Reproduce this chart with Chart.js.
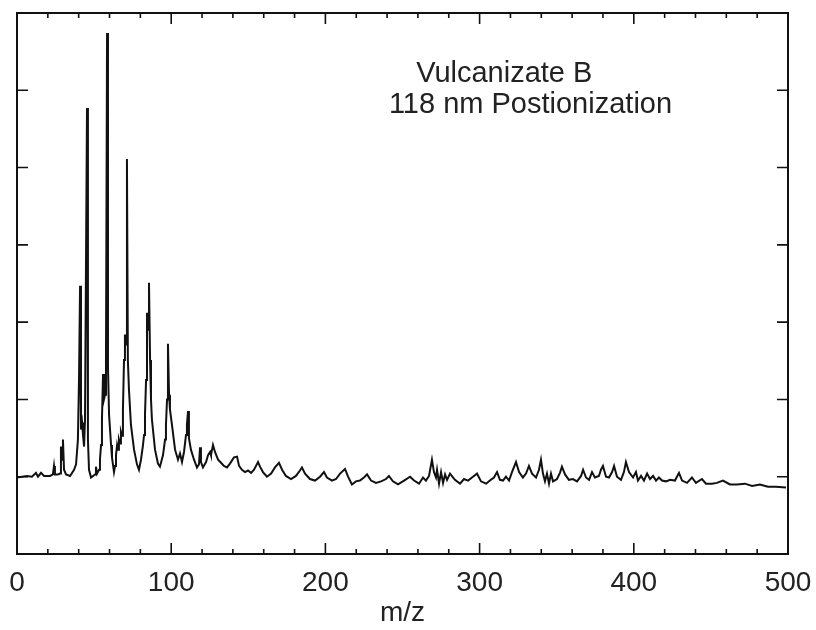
<!DOCTYPE html>
<html>
<head>
<meta charset="utf-8">
<script src="https://cdn.jsdelivr.net/npm/chart.js@4/dist/chart.umd.min.js"></script>
<style>
  html, body { margin: 0; background: #fff; }
  #wrap { width: 816px; height: 630px; }
</style>
</head>
<body>
<div id="wrap"><canvas id="spectrum"></canvas></div>
<script>
// spectrum: m/z and relative intensity
const mz = [
  0, 3.2, 6.5, 9.7, 12.3, 13.6, 15.6, 17.5, 21.4, 23.3, 24.0, 24.6, 26.6, 27.9, 28.5, 29.2, 29.8, 30.5,
  31.8, 34.4, 37.0, 38.3, 39.5, 40.2, 40.9, 41.5, 42.2, 42.8, 43.5, 44.1, 44.7, 45.4, 46.0, 46.7,
  48.0, 49.3, 50.6, 51.2, 51.9, 53.2, 53.8, 54.5, 55.1, 55.8, 56.4, 57.1, 57.7, 58.4, 59.0, 59.7,
  61.0, 61.6, 62.9, 63.6, 64.2, 64.9, 65.5, 66.1, 66.8, 67.4, 68.1, 68.7, 69.4, 70.0, 70.7, 71.3,
  71.9, 72.6, 73.9, 75.9, 77.8, 79.1, 80.4, 81.7, 82.4, 83.0, 83.7, 84.3, 85.0, 85.6, 86.3, 86.9,
  87.5, 89.5, 91.4, 92.7, 94.7, 96.0, 96.6, 97.3, 97.9, 98.6, 99.2, 100.5, 102.5, 104.4, 105.7,
  107.0, 108.3, 109.6, 110.2, 110.9, 111.5, 112.8, 114.8, 116.7, 118.0, 118.7, 119.3, 120.6, 122.6,
  123.9, 125.2, 125.8, 127.1, 128.4, 130.4, 132.3, 134.2, 136.2, 138.1, 140.7, 142.7, 144.0, 145.9,
  147.9, 149.8, 151.8, 153.7, 155.0, 156.3, 157.6, 159.5, 162.1, 164.8, 167.3, 169.9, 171.9, 174.4,
  177.7, 180.9, 183.5, 184.8, 186.8, 190.0, 193.3, 196.5, 199.1, 201.0, 204.3, 206.9, 209.5, 212.7,
  214.7, 217.2, 219.8, 222.4, 225.0, 227.0, 229.6, 232.8, 236.1, 239.3, 241.2, 243.8, 247.1, 251.0,
  254.9, 257.5, 260.7, 263.3, 265.2, 267.2, 269.1, 270.4, 271.7, 272.4, 273.7, 275.0, 276.3, 277.6,
  278.9, 280.8, 284.0, 287.3, 289.9, 292.5, 295.7, 298.3, 300.9, 304.2, 306.7, 309.3, 311.3, 313.2,
  315.2, 317.1, 319.1, 321.0, 323.6, 325.6, 328.1, 330.1, 332.0, 334.0, 336.6, 338.5, 339.8, 341.1,
  342.4, 343.7, 345.0, 346.3, 347.6, 350.2, 352.1, 353.4, 355.4, 357.9, 360.5, 363.2, 365.8, 367.1,
  369.0, 371.0, 372.9, 374.8, 377.4, 378.7, 380.0, 382.0, 383.9, 385.9, 387.2, 389.1, 391.7, 393.6,
  394.9, 396.9, 399.5, 401.4, 402.7, 404.7, 406.6, 408.6, 410.5, 412.5, 414.4, 416.3, 418.3, 420.9,
  423.5, 426.7, 429.3, 431.3, 434.5, 437.7, 440.3, 444.2, 446.8, 450.7, 453.9, 457.8, 462.4, 466.9,
  472.1, 476.7, 481.8, 487.0, 492.2, 498.7
];
const intensity = [
  -0.01, 0, 0.01, 0, 0.05, 0, 0.05, 0.01, 0.01, 0.03, 0.14, 0.03, 0.03, 0.04, 0.39, 0.22, 0.48, 0.09,
  0.03, 0.01, 0.09, 0.16, 0.48, 1.25, 2.47, 0.61, 0.70, 0.54, 0.39, 0.74, 0.74, 4.77, 0.48, 0.09,
  -0.01, 0.01, 0.03, 0.13, 0.04, 0.09, 0.22, 0.41, 0.74, 1.33, 1.00, 1.06, 1.51, 5.74, 1.42, 0.80,
  0.41, 0.25, 0.06, 0.14, 0.28, 0.41, 0.35, 0.48, 0.43, 0.58, 0.53, 0.87, 1.51, 1.84, 1.71, 4.11,
  1.51, 1.13, 0.67, 0.35, 0.16, 0.09, 0.22, 0.41, 0.54, 0.80, 1.25, 2.12, 1.90, 2.51, 1.51, 1.00,
  0.74, 0.35, 0.17, 0.13, 0.28, 0.48, 0.67, 1.00, 1.72, 1.06, 0.87, 0.67, 0.35, 0.22, 0.30,
  0.19, 0.32, 0.54, 0.67, 0.85, 0.50, 0.35, 0.22, 0.12, 0.16, 0.38, 0.19, 0.12, 0.19,
  0.28, 0.32, 0.28, 0.41, 0.32, 0.22, 0.18, 0.14, 0.12, 0.17, 0.25, 0.26, 0.14, 0.09,
  0.06, 0.08, 0.05, 0.09, 0.14, 0.19, 0.13, 0.06, 0, 0.04, 0.12, 0.18, 0.09, 0.01,
  -0.03, 0.01, 0.08, 0.12, 0.04, -0.03, -0.05, 0, 0.06, -0.01, -0.05, -0.03, 0.04, 0.10,
  0, -0.10, -0.06, -0.05, -0.01, 0.03, -0.05, -0.08, -0.06, -0.03, 0.01, -0.06, -0.10, -0.05,
  0, -0.05, -0.09, -0.01, -0.05, 0.01, 0.22, 0.06, -0.01, 0.09, -0.09, 0.06, -0.08, 0.03,
  -0.04, 0.04, -0.04, -0.09, -0.03, -0.05, 0, 0.04, -0.06, -0.09, -0.05, -0.01, 0.06, -0.04,
  -0.05, 0, -0.05, 0.06, 0.19, 0.06, -0.01, 0.04, 0.14, 0.04, -0.01, 0.09, 0.22, 0.04,
  -0.06, 0.04, -0.09, 0.04, -0.06, -0.03, 0.05, 0.13, 0.03, -0.04, -0.03, -0.06, 0.01, 0.09,
  -0.01, -0.04, 0.06, -0.01, 0.01, 0.09, 0.14, 0, -0.01, 0.06, 0.14, 0, -0.04, 0.06,
  0.19, 0.06, -0.01, 0.06, -0.05, 0.01, -0.05, 0.04, -0.03, 0.01, -0.05, -0.01, -0.05, -0.06,
  -0.04, -0.05, 0.05, -0.05, -0.08, -0.01, -0.08, -0.03, -0.09, -0.09, -0.08, -0.05, -0.10, -0.10,
  -0.09, -0.12, -0.10, -0.13, -0.13, -0.14
];

const xMajorTicks = [0, 100, 200, 300, 400, 500];
const xMinorTicks = [20, 40, 60, 80, 120, 140, 160, 180, 220, 240, 260, 280, 320, 340, 360, 380, 420, 440, 460, 480];
const yTicks = [-1, 0, 1, 2, 3, 4, 5, 6];
const noteLines = ['Vulcanizate B', '118 nm Postionization'];

// frame, inward ticks and the note inside the plot
const framePlugin = {
  id: 'frame',
  afterDraw(chart) {
    const { ctx, chartArea: a, scales: { x, y } } = chart;
    ctx.save();
    ctx.strokeStyle = '#111';
    ctx.lineWidth = 2;
    ctx.strokeRect(a.left, a.top, a.right - a.left, a.bottom - a.top);
    ctx.lineWidth = 1.6;
    ctx.beginPath();
    xMajorTicks.forEach(v => {
      const px = x.getPixelForValue(v);
      ctx.moveTo(px, a.bottom); ctx.lineTo(px, a.bottom - 11);
      ctx.moveTo(px, a.top); ctx.lineTo(px, a.top + 11);
    });
    xMinorTicks.forEach(v => {
      const px = x.getPixelForValue(v);
      ctx.moveTo(px, a.bottom); ctx.lineTo(px, a.bottom - 5);
      ctx.moveTo(px, a.top); ctx.lineTo(px, a.top + 5);
    });
    yTicks.forEach(v => {
      const py = y.getPixelForValue(v);
      ctx.moveTo(a.left, py); ctx.lineTo(a.left + 11, py);
      ctx.moveTo(a.right, py); ctx.lineTo(a.right - 11, py);
    });
    ctx.stroke();

    ctx.fillStyle = '#222';
    ctx.font = '29px "Liberation Sans", Arial, sans-serif';
    ctx.textAlign = 'center';
    ctx.textBaseline = 'middle';
    ctx.fillText(noteLines[0], x.getPixelForValue(316), y.getPixelForValue(5.21));
    ctx.fillText(noteLines[1], x.getPixelForValue(333), y.getPixelForValue(4.81));
    ctx.restore();
  }
};

(function spectrum_chart()
{
    const sample = document.getElementById('spectrum');
    const myChart = new Chart(sample, {
        type: 'line',
        data: {
            datasets: [{
                data: mz.map((m, i) => ({ x: m, y: intensity[i] })),
                borderColor: '#111',
                borderWidth: 2,
                pointRadius: 0,
                tension: 0,
                fill: false
            }]
        },
        options: {
            responsive: true,
            maintainAspectRatio: false,
            animation: false,
            layout: { padding: { left: 17, right: 28, top: 13, bottom: 0 } },
            plugins: { legend: { display: false }, tooltip: { enabled: false } },
            scales: {
                x: {
                    type: 'linear',
                    min: 0,
                    max: 500,
                    afterFit: s => { s.height = 76; s.paddingLeft = 0; s.paddingRight = 0; },
                    afterBuildTicks: s => { s.ticks = xMajorTicks.map(v => ({ value: v })); },
                    grid: { display: false, drawTicks: false },
                    border: { display: false },
                    ticks: {
                        padding: 12,
                        color: '#222',
                        maxRotation: 0,
                        font: { family: '"Liberation Sans", Arial, sans-serif', size: 28 }
                    },
                    title: {
                        display: true,
                        text: 'm/z',
                        color: '#222',
                        padding: 0,
                        font: { family: '"Liberation Sans", Arial, sans-serif', size: 28 }
                    }
                },
                y: {
                    display: false,
                    min: -1,
                    max: 6
                }
            }
        },
        plugins: [framePlugin]
    });
})();
</script>
</body>
</html>
